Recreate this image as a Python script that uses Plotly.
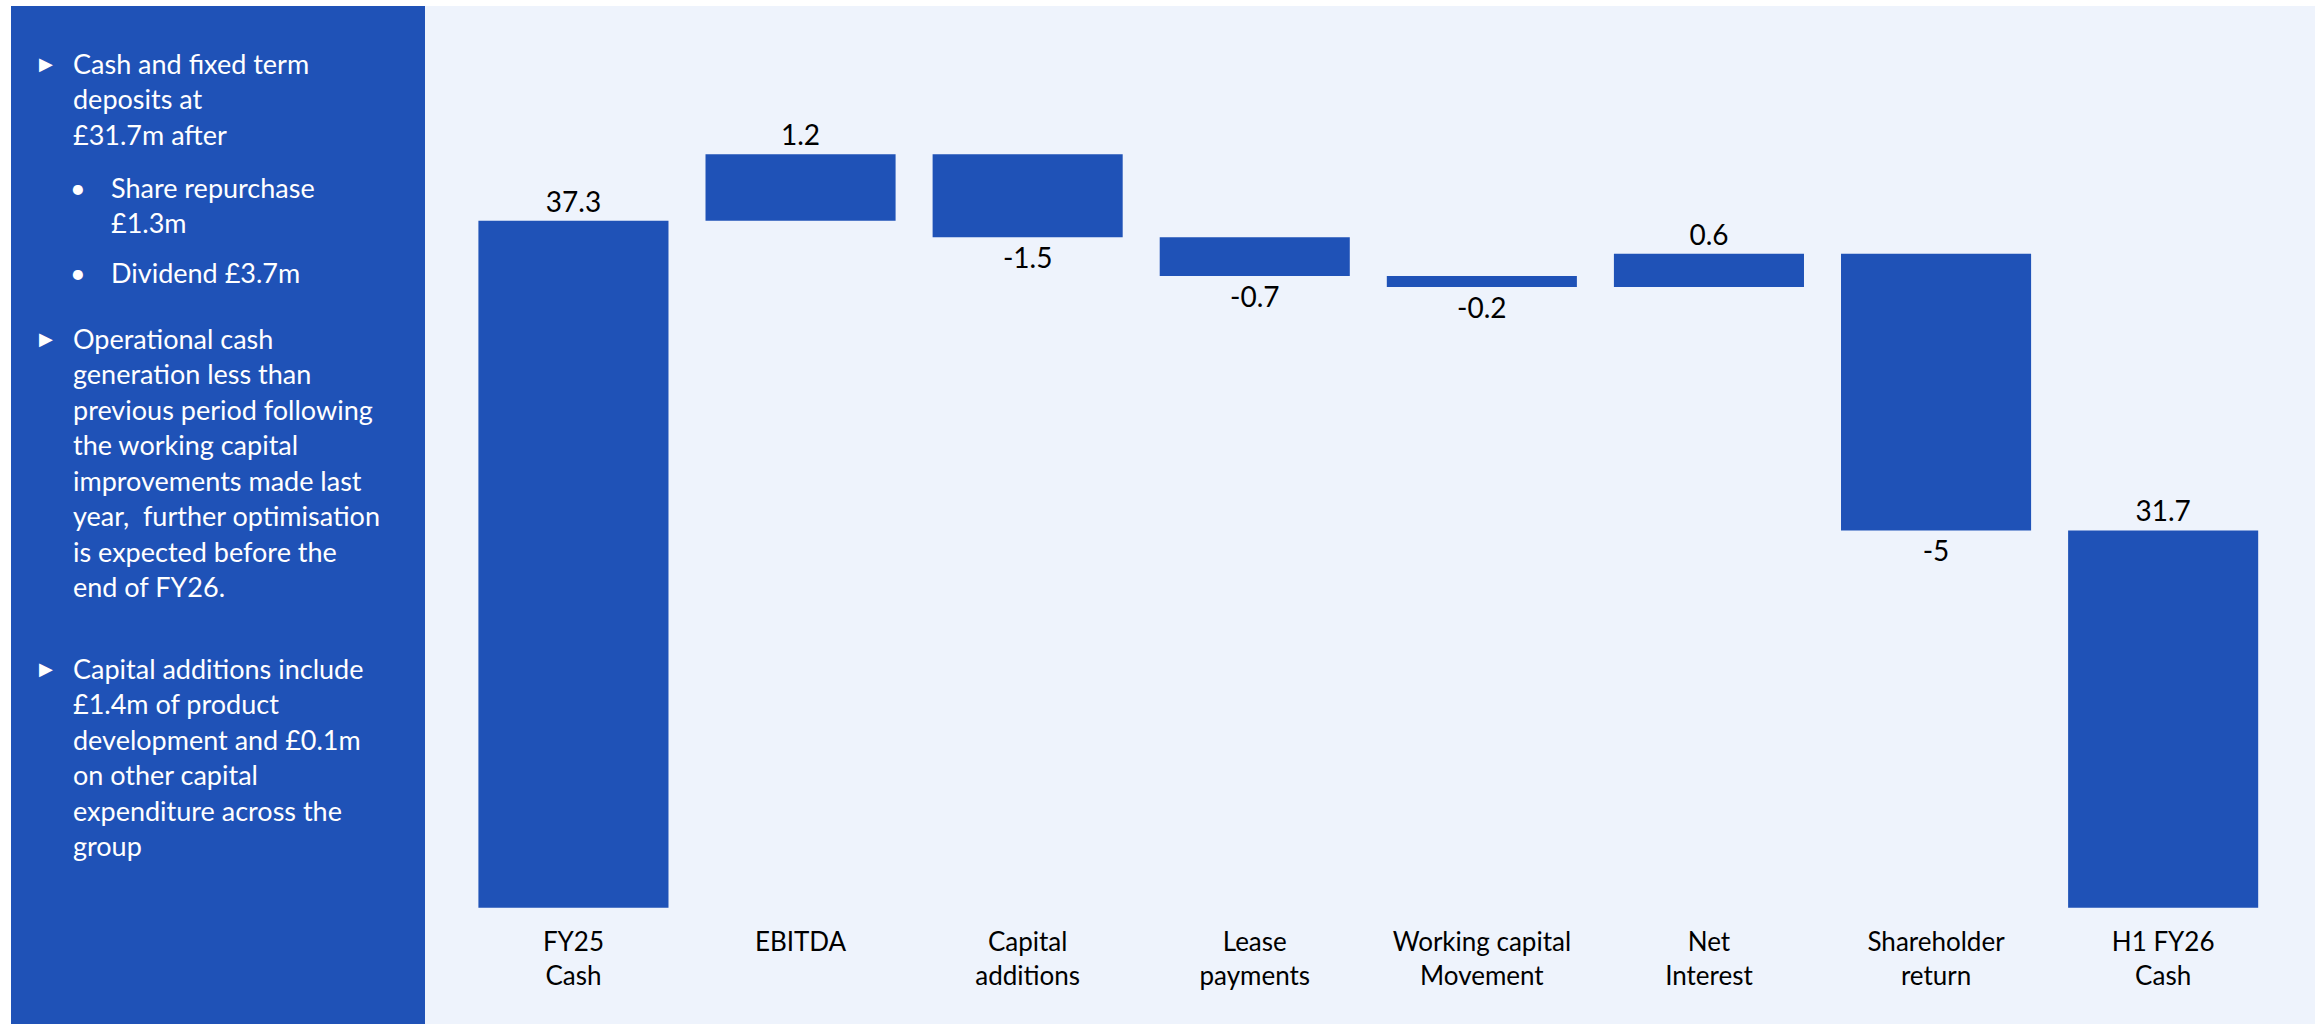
import plotly.graph_objects as go

W, H = 2323, 1024

# ---- data ----
categories = ["FY25 Cash", "EBITDA", "Capital additions", "Lease payments",
              "Working capital Movement", "Net Interest", "Shareholder return", "H1 FY26 Cash"]
tick_labels = ["FY25<br>Cash", "EBITDA", "Capital<br>additions", "Lease<br>payments",
               "Working capital<br>Movement", "Net<br>Interest", "Shareholder<br>return", "H1 FY26<br>Cash"]
values = [37.3, 1.2, -1.5, -0.7, -0.2, 0.6, -5, 31.7]
measures = ["absolute", "relative", "relative", "relative", "relative", "relative", "relative", "total"]

panel_lines = [
    ("Cash and fixed term", 0), ("deposits at", 0), ("£31.7m after", 0),
    ("Share repurchase", 1), ("£1.3m", 1), ("Dividend £3.7m", 1),
    ("Operational cash", 0), ("generation less than", 0), ("previous period following", 0),
    ("the working capital", 0), ("improvements made last", 0), ("year,  further optimisation", 0),
    ("is expected before the", 0), ("end of FY26.", 0),
    ("Capital additions include", 0), ("£1.4m of product", 0), ("development and £0.1m", 0),
    ("on other capital", 0), ("expenditure across the", 0), ("group", 0),
]
# layout: y centres (px) of each panel line
line_y = [63, 98.5, 134, 187, 222.5, 272,
          338, 373.5, 409, 444.5, 480, 515.5, 551, 586.5,
          668, 703.5, 739, 774.5, 810, 845.5]
arrow_y = [63, 338, 668]
dot_y = [187, 272]

BLUE = "#1F52B7"
LIGHT = "#EEF3FC"
FONT = "Lato"

fig = go.Figure()
fig.add_trace(go.Waterfall(
    x=categories,
    y=values,
    measure=measures,
    text=[f"{v:g}" for v in values],
    textposition="outside",
    textfont=dict(family=FONT, size=28, color="#000000"),
    constraintext="none",
    cliponaxis=False,
    increasing=dict(marker=dict(color=BLUE)),
    decreasing=dict(marker=dict(color=BLUE)),
    totals=dict(marker=dict(color=BLUE)),
    connector=dict(visible=False),
    hoverinfo="skip",
))

def px(x):
    return x / W

def py(y):
    return 1 - y / H

shapes = [
    dict(type="rect", xref="paper", yref="paper", x0=px(11), x1=px(425), y0=0, y1=py(6),
         fillcolor=BLUE, line=dict(width=0), layer="below"),
    dict(type="rect", xref="paper", yref="paper", x0=px(425), x1=px(2315), y0=0, y1=py(6),
         fillcolor=LIGHT, line=dict(width=0), layer="below"),
]

annotations = []
for (txt, lvl), yy in zip(panel_lines, line_y):
    annotations.append(dict(
        text=txt, xref="paper", yref="paper", x=px(109 if lvl else 71), y=py(yy),
        xanchor="left", yanchor="middle", showarrow=False,
        font=dict(family=FONT, size=27, color="white")))
for yy in arrow_y:
    annotations.append(dict(
        text="▶", xref="paper", yref="paper", x=px(46), y=py(yy),
        xanchor="center", yanchor="middle", showarrow=False,
        font=dict(family="DejaVu Sans", size=18, color="white")))
for yy in dot_y:
    annotations.append(dict(
        text="•", xref="paper", yref="paper", x=px(78), y=py(yy),
        xanchor="center", yanchor="middle", showarrow=False,
        font=dict(family=FONT, size=27, color="white")))

fig.update_layout(
    width=W, height=H,
    margin=dict(l=0, r=0, t=0, b=0, autoexpand=False),
    paper_bgcolor="white",
    plot_bgcolor="rgba(0,0,0,0)",
    showlegend=False,
    waterfallgap=0.163,
    shapes=shapes,
    annotations=annotations,
    xaxis=dict(
        domain=[459.9 / W, 2276.7 / W],
        tickmode="array", tickvals=categories, ticktext=tick_labels,
        tickfont=dict(family=FONT, size=26, color="#000000"),
        ticklabelstandoff=16,
        showgrid=False, zeroline=False, showline=False, ticks="",
        range=[-0.5, 7.5],
    ),
    yaxis=dict(
        domain=[py(907.7), py(71.3)],
        range=[24.88, 40],
        visible=False, showgrid=False, zeroline=False,
    ),
)

fig.write_html("out.html")
